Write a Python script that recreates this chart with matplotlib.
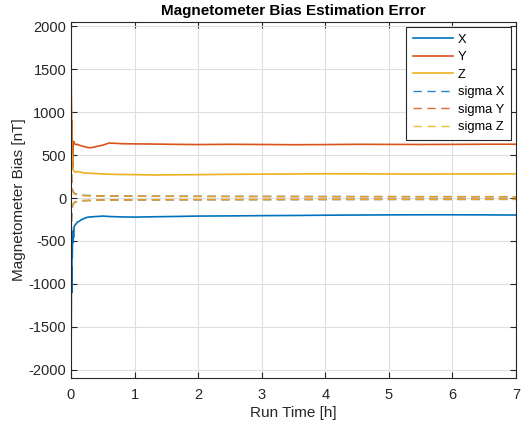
import matplotlib
matplotlib.use("Agg")
import matplotlib.pyplot as plt

plt.rcParams['font.family'] = ['Liberation Sans', 'DejaVu Sans']
plt.rcParams['axes.unicode_minus'] = False

# ---- data ----
t_x = [0, 0.004, 0.008, 0.012, 0.016, 0.02, 0.025, 0.03, 0.035, 0.04, 0.05, 0.06, 0.08, 0.1, 0.13, 0.17, 0.2, 0.25, 0.3,
       0.4, 0.5, 0.6, 0.8, 1.0, 1.3, 1.6, 2.0, 2.5, 3.0, 3.5, 4.0, 4.5, 5.0, 5.5, 6.0, 6.5, 7.0]
x_bias = [-1900, -1500, -800, -1100, -600, -700, -480, -520, -380, -460, -330, -320, -300, -280, -270, -250, -240, -225, -220,
          -215, -210, -215, -220, -222, -218, -215, -210, -208, -205, -203, -200, -198, -196, -195, -195, -196, -198]

t_y = [0, 0.004, 0.008, 0.012, 0.016, 0.02, 0.025, 0.03, 0.035, 0.04, 0.05, 0.06, 0.08, 0.1, 0.13, 0.17, 0.2, 0.25, 0.3,
       0.35, 0.4, 0.5, 0.6, 0.8, 1.0, 1.3, 1.6, 2.0, 2.5, 3.0, 3.5, 4.0, 4.5, 5.0, 5.5, 6.0, 6.5, 7.0]
y_bias = [2000, 1250, 1000, 700, 900, 450, 350, 500, 620, 660, 640, 630, 620, 625, 615, 605, 600, 590, 585,
          590, 600, 615, 640, 632, 630, 628, 625, 622, 625, 623, 620, 622, 625, 624, 623, 624, 626, 626]

t_z = [0, 0.004, 0.008, 0.012, 0.016, 0.02, 0.025, 0.03, 0.04, 0.05, 0.07, 0.1, 0.13, 0.17, 0.2, 0.3, 0.4, 0.5,
       0.7, 1.0, 1.3, 1.6, 2.0, 2.5, 3.0, 3.5, 4.0, 4.5, 5.0, 5.5, 6.0, 6.5, 7.0]
z_bias = [2040, 1200, 800, 400, 500, 340, 360, 330, 320, 315, 300, 310, 305, 298, 292, 288, 285, 280,
          275, 272, 268, 270, 272, 276, 278, 280, 282, 281, 280, 279, 280, 280, 281]

t_sig = [0, 0.003, 0.006, 0.01, 0.015, 0.02, 0.03, 0.05, 0.1, 0.2, 0.5, 1.0, 2.0, 3.0, 4.0, 5.0, 6.0, 7.0]
sig_x = [2050, 1200, 500, 250, 150, 110, 80, 55, 40, 32, 25, 22, 20, 19, 18, 17, 17, 16]
sig_y = [2050, 1100, 450, 230, 140, 100, 75, 50, 36, 28, 22, 20, 18, 17, 16, 16, 15, 15]
sig_z = [2050, 1150, 480, 240, 145, 105, 78, 52, 38, 30, 24, 21, 19, 18, 17, 16, 16, 15]

colors = ['#0072BD', '#D95319', '#EDB120']
labels = ['X', 'Y', 'Z', 'sigma X', 'sigma Y', 'sigma Z']

fig = plt.figure(figsize=(5.22, 4.25), dpi=100)
ax = fig.add_axes([0.136, 0.1106, 0.8525, 0.8374])

ax.plot(t_x, x_bias, color=colors[0], lw=1.2, label=labels[0])
ax.plot(t_y, y_bias, color=colors[1], lw=1.2, label=labels[1])
ax.plot(t_z, z_bias, color=colors[2], lw=1.2, label=labels[2])
for s, c, lab in zip([sig_x, sig_y, sig_z], colors, labels[3:]):
    ax.plot(t_sig, s, color=c, lw=1.0, ls=(0, (6, 4)), alpha=0.85, label=lab)
for s, c in zip([sig_x, sig_y, sig_z], colors):
    ax.plot(t_sig, [-v for v in s], color=c, lw=1.0, ls=(0, (6, 4)), alpha=0.85)

ax.set_xlim(0, 7)
ax.set_ylim(-2094, 2047)
ax.set_xticks(range(0, 8))
ax.set_yticks(range(-2000, 2001, 500))
ax.grid(True, color='#dfdfdf', lw=0.8)
ax.set_axisbelow(True)
ax.tick_params(direction='in', top=True, right=True, labelsize=10.5, colors='#262626', length=4)
ax.tick_params(axis='x', pad=7)
for sp in ax.spines.values():
    sp.set_color('#262626')
    sp.set_linewidth(0.8)

ax.set_title('Magnetometer Bias Estimation Error', fontsize=11, fontweight='bold', pad=5)
ax.set_xlabel('Run Time [h]', fontsize=11, color='#262626', labelpad=3)
ax.set_ylabel('Magnetometer Bias [nT]', fontsize=11, color='#262626', labelpad=2)

leg = ax.legend(loc='upper right', fontsize=9.3, fancybox=False, framealpha=1,
                edgecolor='#262626', handlelength=3.1, borderaxespad=0.4,
                labelspacing=0.42, handletextpad=0.4, borderpad=0.5)
leg.get_frame().set_linewidth(0.8)

fig.savefig('out.png', dpi=100)
